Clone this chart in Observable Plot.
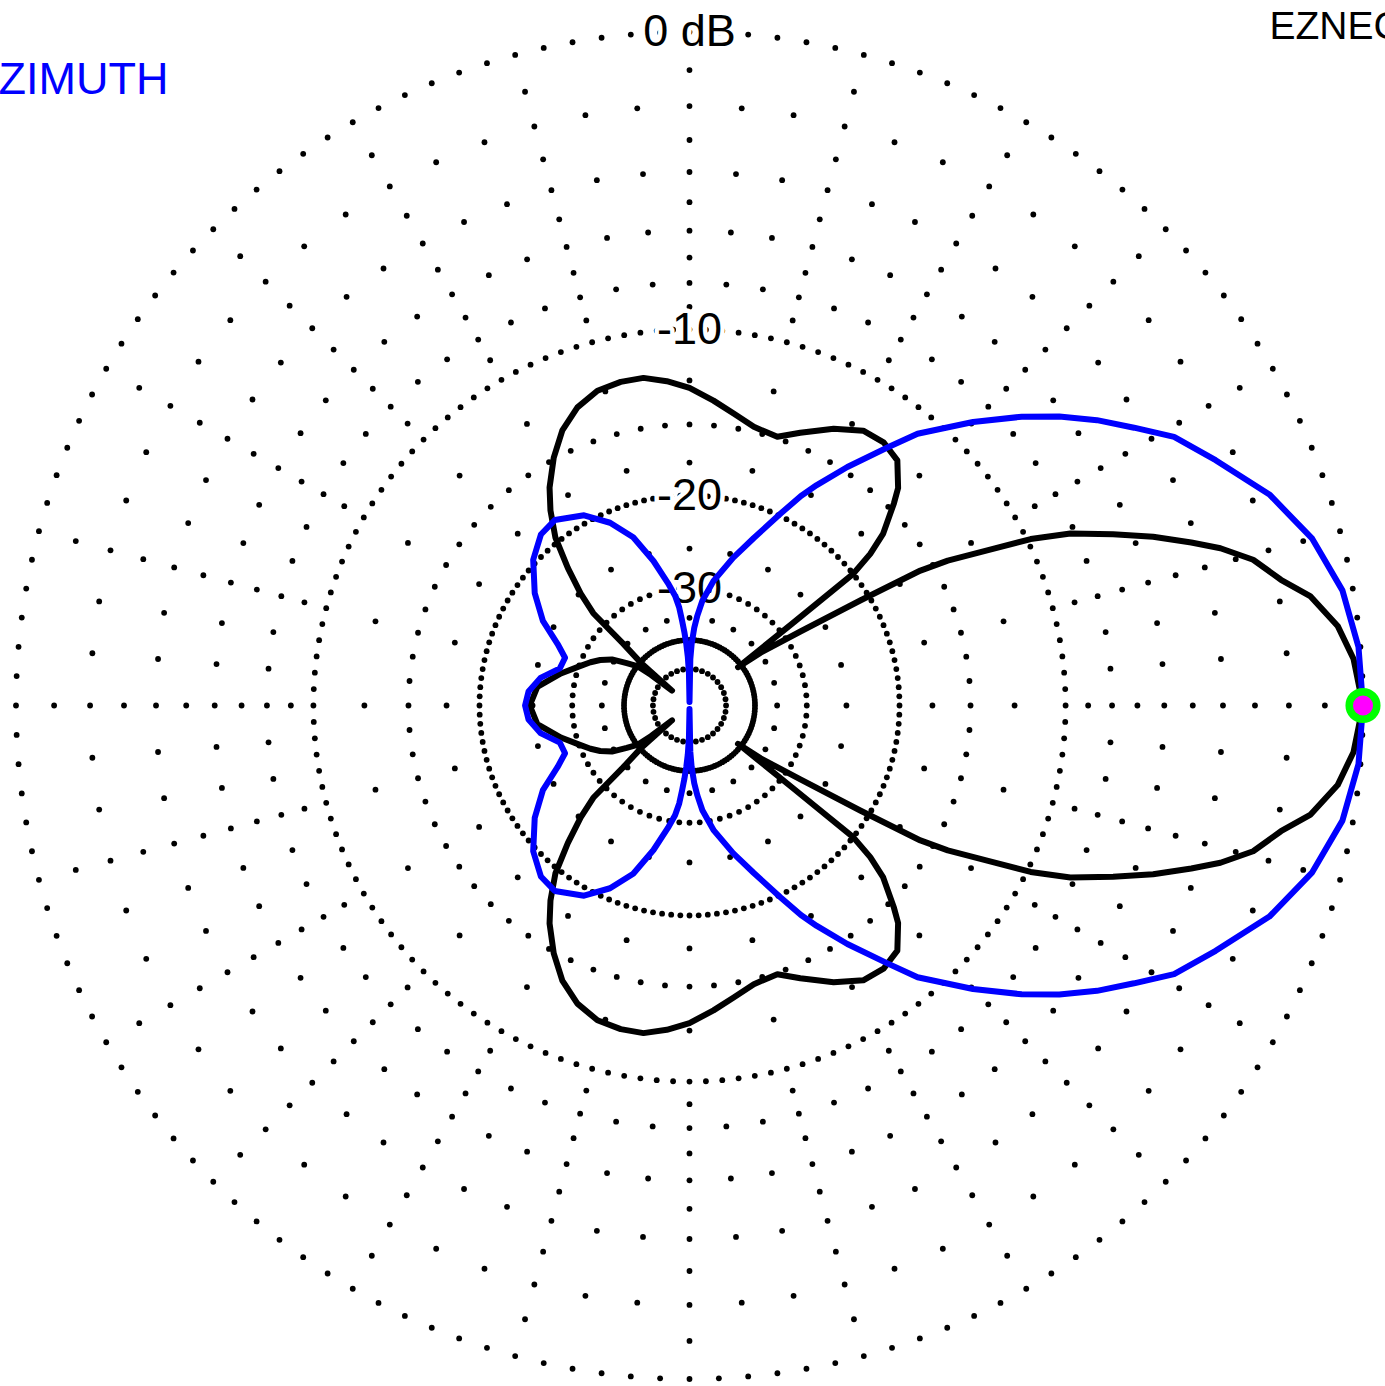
<!DOCTYPE html>
<html>
<head>
<meta charset="utf-8">
<script src="https://cdn.jsdelivr.net/npm/d3@7"></script>
<script src="https://cdn.jsdelivr.net/npm/@observablehq/plot@0.6"></script>
<style>
  html, body { margin: 0; padding: 0; background: #fff; overflow: hidden; }
  #chart svg { display: block; }
</style>
</head>
<body>
<div id="chart"></div>
<script>
// ---- Data (azimuth in degrees, counter-clockwise from the right; gain in dB) ----
const blueAz = [0,5,10,15,20,25,29,32,35,38,41,45,50,52.5,56.5,60,62,64.6,69,73.5,79,83,85,86.5,88,89,90,91,92,93,94,95,96,97.5,100,104,108.5,113.5,119,126,131,137,144,150,155,159,164,169.5,175,180,
  185,190.5,196,201,205,210,216,223,229,234,241,246.5,251.5,256,260,262.5,264,265,266,267,268,269,270,271,272,273.5,275,277,281,286.5,291,295.4,298,300,303.5,307.5,310,315,319,322,325,328,331,335,340,345,350,355,360];
const blueDb = [0,-0.05,-0.27,-0.75,-1.5,-2.55,-3.35,-4.3,-5.2,-6.2,-7.3,-8.9,-11.0,-12.5,-14.7,-16.7,-17.9,-19.8,-22.7,-25.3,-28.6,-31.8,-34.5,-37,-41,-46,-90,-52,-45,-41,-38,-35.5,-33,-31,-29,-25.9,-22.9,-20.9,-19.4,-18.5,-18.7,-19.7,-21.6,-23.7,-26.3,-27.8,-27.6,-25.6,-24.5,-24.2,
  -24.5,-25.6,-27.6,-27.8,-26.3,-23.7,-21.6,-19.7,-18.7,-18.5,-19.4,-20.9,-22.9,-25.9,-29,-31,-33,-35.5,-38,-41,-45,-52,-90,-46,-41,-37,-34.5,-31.8,-28.6,-25.3,-22.7,-19.8,-17.9,-16.7,-14.7,-12.5,-11.0,-8.9,-7.3,-6.2,-5.2,-4.3,-3.35,-2.55,-1.5,-0.75,-0.27,-0.05,0];

const blackAz = [0,4,7,10,12,14.5,16.5,18,20,22,24.3,26,27.5,29.3,30.3,31.6,33.7,36.6,38.3,38.6,38.8,40,41.6,44.7,46.2,49.7,53.6,57.7,62.5,67.9,71.9,77,81.4,85.5,90,94,98,102,106.3,110.6,114.8,118.7,122.7,125.5,128.6,131.5,134.2,136.2,137,138.8,139.6,141.5,143,146,149.3,153,156.4,160,166,173,180,
  187,194,200,203.6,207,210.7,214,217,218.5,220.4,221.2,223,223.8,225.8,228.5,231.4,234.5,237.3,241.3,245.2,249.4,253.7,258,262,266,270,274.5,278.6,283,288.1,292.1,297.5,302.3,306.4,310.3,313.8,315.3,318.4,320,321.2,321.4,321.7,323.4,326.3,328.4,329.7,330.7,332.5,334,335.7,338,340,342,343.5,345.5,348,350,353,356,360];
const blackDb = [0,-0.2,-0.53,-1.14,-1.85,-2.5,-3.36,-4.19,-5.34,-6.66,-8.19,-9.84,-11.9,-14.1,-15.85,-20.8,-27.8,-34.8,-41,-28,-20,-18,-16.4,-14.6,-13.8,-12.7,-12.4,-12.5,-13.2,-14.2,-14.9,-14.7,-14.15,-13.55,-12.9,-12.5,-12.2,-12.2,-12.35,-12.85,-13.7,-14.9,-16.4,-17.75,-19.6,-22.3,-25.1,-27.8,-34.4,-40.6,-58,-45,-40,-37.5,-34.5,-32.7,-31.4,-30.2,-27.9,-25.4,-24.7,
  -25.4,-27.9,-30.2,-31.4,-32.7,-34.5,-37.5,-40,-45,-58,-40.6,-34.4,-27.8,-25.1,-22.3,-19.6,-17.75,-16.4,-14.9,-13.7,-12.85,-12.35,-12.2,-12.2,-12.5,-12.9,-13.55,-14.15,-14.7,-14.9,-14.2,-13.2,-12.5,-12.4,-12.7,-13.8,-14.6,-16.4,-18,-20,-28,-41,-34.8,-27.8,-20.8,-15.85,-14.1,-11.9,-9.84,-8.19,-6.66,-5.34,-4.19,-3.36,-2.5,-1.85,-1.14,-0.53,-0.2,0];

// Peak marker
const peakAz = [0];
const peakDb = [0];

// Grid: dotted rings (dB level, angular dot step in degrees) and dotted spokes
const ringDb   = [0, -2, -4, -6, -8, -10, -15, -20, -30, -40, -50];
const ringStep = [2.5, 5, 5, 5, 5, 2.5, 5, 2.5, 5, 2.5, 10];
const spokeStep = 15;
const spokeDb = [-1, -3, -5, -7, -9, -12.5, -17.5, -25, -35];

// Ring labels
const labelDb = [0, -10, -20, -30];
const labelText = ["0 dB", "-10", "-20", "-30"];

// ---- ARRL log radial scale: each 2 dB shrinks radius by factor 0.89 ----
const rho = db => Math.pow(0.89, -db / 2);
const rad = a => a * Math.PI / 180;
const px = d => rho(d.db) * Math.cos(rad(d.az));
const py = d => rho(d.db) * Math.sin(rad(d.az));

const blue = blueAz.map((az, i) => ({az, db: blueDb[i]}));
const black = blackAz.map((az, i) => ({az, db: blackDb[i]}));
const peak = peakAz.map((az, i) => ({az, db: peakDb[i]}));

const grid = [];
ringDb.forEach((db, i) => {
  const step = ringStep[i];
  for (let k = 0; k * step < 360 - 1e-9; k++) grid.push({az: k * step, db});
});
for (let a = 0; a < 360; a += spokeStep) spokeDb.forEach(db => grid.push({az: a, db}));

const labels = labelDb.map((db, i) => ({az: 90, db, text: labelText[i]}));

// Layout: centre at (689, 705) px, 0 dB radius 673.5 px
const W = 1385, H = 1386, CX = 689, CY = 705, R0 = 673.5;

const chart = Plot.plot({
  width: W,
  height: H,
  margin: 0,
  style: {fontFamily: "'Liberation Sans', Arial, Helvetica, sans-serif", background: "white"},
  x: {domain: [-CX / R0, (W - CX) / R0], axis: null},
  y: {domain: [-(H - CY) / R0, CY / R0], axis: null},
  marks: [
    Plot.dot(grid, {x: px, y: py, r: 2.9, fill: "black", stroke: "none"}),
    Plot.text(labels, {x: px, y: py, text: "text", fontSize: 45, fill: "black",
      stroke: "white", strokeWidth: 9, textAnchor: "middle", lineAnchor: "middle"}),
    Plot.line(black, {x: px, y: py, stroke: "black", strokeWidth: 6,
      strokeLinejoin: "round", strokeLinecap: "round"}),
    Plot.line(blue, {x: px, y: py, stroke: "#0000ff", strokeWidth: 6,
      strokeLinejoin: "round", strokeLinecap: "round"}),
    Plot.dot(peak, {x: px, y: py, r: 13.8, fill: "#ff00ff", stroke: "#00ff00", strokeWidth: 7.5}),
    Plot.text(["AZIMUTH"], {frameAnchor: "top-left", dx: 168, dy: 62, text: d => d,
      textAnchor: "end", lineAnchor: "top", fontSize: 45, fill: "#0000ff"}),
    Plot.text(["EZNEC"], {frameAnchor: "top-left", dx: 1269, dy: 10.5, text: d => d,
      textAnchor: "start", lineAnchor: "top", fontSize: 39, fill: "black"})
  ]
});
document.getElementById("chart").appendChild(chart);
</script>
</body>
</html>
